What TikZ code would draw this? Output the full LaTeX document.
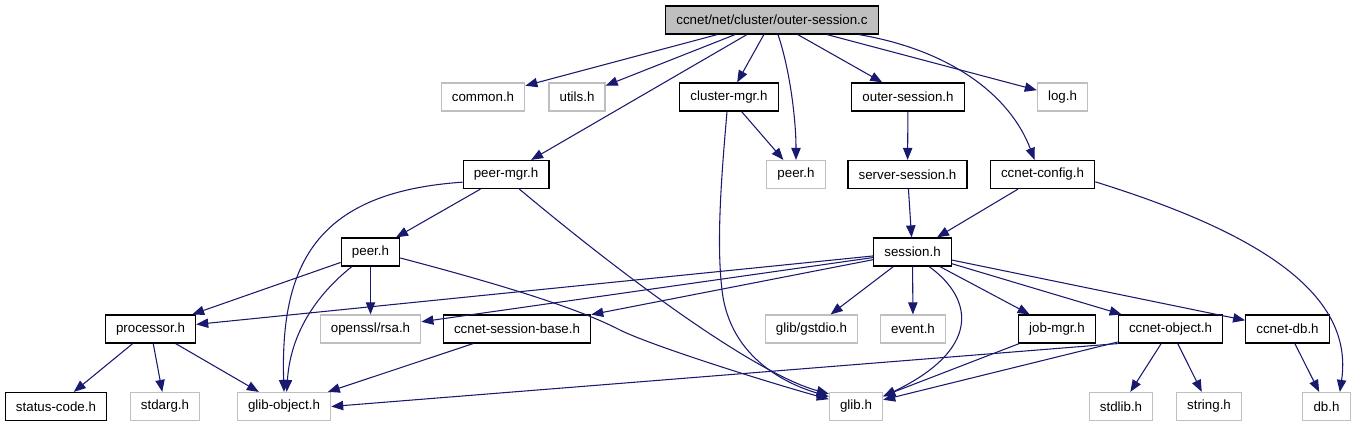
\documentclass[tikz,border=0pt]{standalone}
\usepackage{fontspec}
\setmainfont{Liberation Sans}
\usetikzlibrary{arrows.meta}

\begin{document}
\begin{tikzpicture}[x=0.75pt,y=-0.75pt,
  >={Triangle[length=9pt,width=7pt]},
  file/.style={draw=black,line width=0.9pt,fill=white,minimum height=21pt,
    inner xsep=8pt,inner ysep=2pt,font=\fontsize{10}{12}\selectfont},
  sysfile/.style={file,draw=sysgrey},
  rootfile/.style={file,fill=rootgrey},
  dep/.style={->,draw=depblue,line width=0.8pt}]
\definecolor{depblue}{HTML}{191970}
\definecolor{sysgrey}{HTML}{BFBFBF}
\definecolor{rootgrey}{HTML}{BFBFBF}

\useasboundingbox (0,0) rectangle (1355,427);

% the file itself
\node[rootfile] (root) at (772,20) {ccnet/net/cluster/outer-session.c};

% direct includes
\node[sysfile] (common) at (483,97) {common.h};
\node[sysfile] (utils) at (577,97) {utils.h};
\node[file] (clustermgr) at (729,97) {cluster-mgr.h};
\node[file] (outersess) at (908,97) {outer-session.h};
\node[sysfile] (logh) at (1062.5,97) {log.h};

\node[file] (peermgr) at (506,174.5) {peer-mgr.h};
\node[sysfile] (peerh) at (796,174.5) {peer.h};
\node[file] (serversess) at (907.5,174.5) {server-session.h};
\node[file] (config) at (1042.5,174.5) {ccnet-config.h};

\node[file] (peer) at (370.5,252) {peer.h};
\node[file] (session) at (912.5,252) {session.h};

\node[file] (processor) at (150.5,329) {processor.h};
\node[sysfile] (rsa) at (370.5,329) {openssl/rsa.h};
\node[file] (sessbase) at (517,329) {ccnet-session-base.h};
\node[sysfile] (gstdio) at (811.5,329) {glib/gstdio.h};
\node[sysfile] (event) at (913,329) {event.h};
\node[file] (jobmgr) at (1057,329) {job-mgr.h};
\node[file] (object) at (1170.5,329) {ccnet-object.h};
\node[file] (ccnetdb) at (1287.5,329) {ccnet-db.h};

% leaves
\node[file] (status) at (56,406.5) {status-code.h};
\node[sysfile] (stdarg) at (165,406.5) {stdarg.h};
\node[sysfile] (globject) at (284,406.5) {glib-object.h};
\node[sysfile] (glib) at (856,406.5) {glib.h};
\node[sysfile] (stdlib) at (1121,406.5) {stdlib.h};
\node[sysfile] (stringh) at (1209,406.5) {string.h};
\node[sysfile] (db) at (1326.5,406.5) {db.h};

% straight include edges
\foreach \a/\b in {root/common, root/utils, root/clustermgr, root/outersess,
    root/logh, root/peermgr, clustermgr/peerh, outersess/serversess,
    serversess/session, config/session, peermgr/peer, peer/processor,
    peer/rsa, session/processor, session/rsa, session/sessbase,
    session/gstdio, session/event, session/jobmgr, session/object,
    session/ccnetdb, processor/status, processor/stdarg, processor/globject,
    sessbase/globject, jobmgr/glib, object/glib, object/stdlib,
    object/stringh, ccnetdb/db}
  \draw[dep] (\a) -- (\b);

% bent ones
\draw[dep] ([xshift=4.5pt]root.south) .. controls (790,70) and (796,120) .. (peerh.north);
\draw[dep] ([xshift=-15pt]root.south east) .. controls (950,50) and (1010,95) .. ([xshift=-6pt]config.north);
\draw[dep] ([xshift=-1.5pt]clustermgr.south) .. controls (722,170) and (716,240) .. (722,290)
  .. controls (730,360) and (790,385) .. (glib.160);
\draw[dep] (peermgr.190) .. controls (320,192) and (280,260) .. (globject.north);
\draw[dep] ([xshift=10pt]peermgr.south) .. controls (640,290) and (760,375) .. (glib.155);
\draw[dep] ([xshift=-14pt]peer.south) .. controls (310,300) and (290,340) .. ([xshift=2pt]globject.north);
\draw[dep] ([yshift=-4.5pt]peer.east) .. controls (560,300) and (600,320) .. (620,330)
  .. controls (650,345) and (760,380) .. (glib.165);
\draw[dep] ([xshift=12.5pt]session.south) .. controls (975,300) and (980,350) .. (glib.20);
\draw[dep] ([yshift=-5.5pt]config.east) .. controls (1250,230) and (1355,290) .. ([xshift=10pt]db.north);
\draw[dep] (object.south west) -- (globject.east);
\end{tikzpicture}
\end{document}
